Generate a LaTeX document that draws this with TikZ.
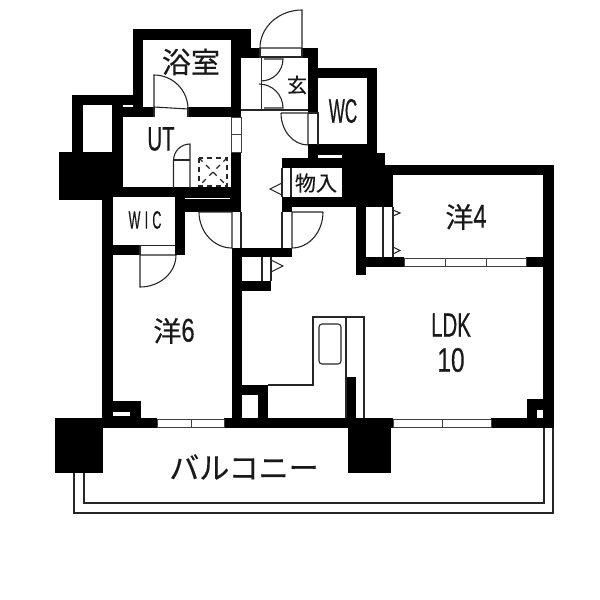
\documentclass[tikz,border=0pt]{standalone}
\usepackage{fontspec}
\setmainfont[FakeBold=.4]{Noto Sans CJK JP}
\newfontfamily\halffont[FakeStretch=.6,FakeBold=.4]{Liberation Sans}
\newfontfamily\wcfont[FakeStretch=.5,FakeBold=.4]{Liberation Sans}
\newfontfamily\digitfont[FakeStretch=.72,FakeBold=.4]{Liberation Sans}
\newfontfamily\wicfont[FakeStretch=.5,LetterSpace=17,FakeBold=.4]{Liberation Sans}
\tikzset{
	wall/.style={fill=black},
	thinline/.style={draw=black!85,line width=1.1pt},
	doorline/.style={draw=black!85,line width=1.1pt},
	glass/.style={draw=black!75,fill=white,line width=.9pt},
	room/.style={inner sep=0pt,text=black!90}
}
\newcommand{\jpsize}[1]{\fontsize{#1}{#1}\selectfont}
\begin{document}
\begin{tikzpicture}[x=1pt,y=-1pt]
	\useasboundingbox (0,0) rectangle (600,600);
	% walls
	\foreach \xa/\ya/\xb/\yb in {133/29/251/40, 133/29/143/117, 231/29/241/117, 241/29/251/58, 241/48/260/58, 302/48/318/58,
		308/48/318/113, 318/68/377/78, 367/68/377/155, 308/144/377/155, 308/144/318/168,
		72/95/133/105, 72/95/83/152, 112/95/123/187, 123/107/154/117, 188/107/241/117,
		231/152/241/212, 59/152/123/187, 59/187/102/200, 102/187/241/197, 185/197/241/212,
		102/197/113/418, 175/197/185/255, 113/245/140/255,
		282/158/342/168, 342/153/385/207, 385/165/393/207, 393/165/554/175, 543/165/554/428,
		282/197/356/207, 282/207/292/212, 356/207/366/275, 366/257/404/267, 526/257/554/267,
		232/248/292/257, 232/248/242/418, 241/281/271/291,
		241/385/268/395, 258/385/268/418, 346/377/356/418,
		103/418/157/428, 224/418/393/428, 491/418/554/428,
		55/418/103/473, 348/418/391/473,
		113/401/141/412, 130/401/141/418, 113/416/130/418,
		527/399/537/418, 527/399/554/410, 544/399/554/418}
		{\fill[wall] (\xa,\ya) rectangle (\xb,\yb);}
	\fill[white] (318,155) rectangle (341,158);
	\fill[white] (185,197.5) rectangle (230,199);

	% windows
	\foreach \xa/\ya/\xb/\yb in {231/117/241/134, 231/134/241/152,
		404/258/445/266, 445/258/486/266, 486/258/526/266,
		157/419/191/427, 191/419/224/427, 393/419/442/427, 442/419/491/427}
		{\draw[glass] (\xa,\ya) rectangle (\xb,\yb);}

	% doors
	\draw[doorline] (154,107) -- (154,75) arc[start angle=-90,end angle=0,radius=34] -- (154,107);
	\draw[doorline] (154,107) -- (154,117) (188,107) -- (188,117);
	\draw[doorline] (190,188) -- (190,144) arc[start angle=-90,end angle=-180,radius=16.5] -- (173.5,188);
	\draw[doorline] (173.5,160) -- (190,160);
	\draw[doorline] (302,48) -- (302,10) arc[start angle=-90,end angle=-180,x radius=42,y radius=38] -- (302,48);
	\draw[doorline] (260,48) -- (260,57) -- (302,57) -- (302,48);
	\draw[doorline] (264,59) -- (283,59) arc[start angle=0,end angle=90,radius=22] ;
	\draw[doorline] (264,108) -- (283,108) arc[start angle=0,end angle=-90,radius=24];
	\draw[doorline,line width=1.6pt] (261.5,58) -- (261.5,109);
	\draw[doorline] (241,110) -- (308,110);
	\draw[doorline] (281,113) -- (308,113) -- (308,145) arc[start angle=90,end angle=180,x radius=27,y radius=32];
	\draw[doorline] (308,113) -- (318,113) -- (318,145);
	\draw[doorline] (199,212) -- (232,212) -- (232,248) arc[start angle=90,end angle=180,x radius=33,y radius=36];
	\draw[doorline] (241,212) -- (241,248);
	\draw[doorline] (323,212) -- (292,212) -- (292,248) arc[start angle=90,end angle=0,x radius=31,y radius=36];
	\draw[doorline] (282,212) -- (282,248);
	\draw[doorline] (175,255) -- (140,255) -- (140,287) arc[start angle=90,end angle=0,x radius=36,y radius=32];
	\draw[doorline] (140,245) -- (140,255);
	\draw[doorline] (140,245.5) -- (175,245.5);

	% closets
	\draw[thinline] (282,168) -- (282,197);
	\draw[thinline] (291,168) -- (291,197);
	\draw[thinline] (282,183) -- (270,189) -- (282,195);
	\draw[thinline] (262,257) -- (262,281);
	\draw[thinline] (271,257) -- (271,281);
	\draw[thinline] (271,260) -- (283,266) -- (271,272);
	\draw[thinline] (383,207) -- (383,257);
	\draw[thinline] (393,207) -- (393,257);
	\draw[thinline] (393,210) -- (400,213) -- (393,216);
	\draw[thinline] (393,247) -- (400,250.5) -- (393,254);

	% kitchen
	\draw[thinline] (268,385) -- (313,385) -- (313,317) -- (364,317) -- (364,418);
	\draw[thinline] (346,317) -- (346,418);
	\draw[thinline,rounded corners=3pt] (319,324) rectangle (341,364);

	% vent
	\draw[thinline,dashed,dash pattern=on 5pt off 4pt] (199,158) rectangle (227,186);
	\draw[thinline,dashed,dash pattern=on 5pt off 5pt] (199,158) -- (227,186) (227,158) -- (199,186);

	% balcony
	\draw[thinline] (74,473) -- (74,513) -- (553,513) -- (553,428);
	\draw[thinline] (84,473) -- (84,503) -- (544,503) -- (544,428);

	% labels
	\node[room] (bath) at (191,62) {\jpsize{29}浴室};
	\node[room] (entry) at (297,85) {\jpsize{20}玄};
	\node[room] (toilet) at (343,111) {\jpsize{34}\wcfont WC};
	\node[room] (util) at (161,139) {\jpsize{34}\halffont UT};
	\node[room] (closet) at (316,183) {\jpsize{21}物入};
	\node[room] (wic) at (145,220) {\jpsize{25}\wicfont WIC};
	\node[room] (west4) at (466,217) {\jpsize{28}洋\jpsize{33}\digitfont 4};
	\node[room] (west6) at (174,331) {\jpsize{28}洋\jpsize{33}\digitfont 6};
	\node[room] (ldk) at (451,325) {\jpsize{34}\halffont LDK};
	\node[room] (ldkn) at (451,360) {\jpsize{34}\digitfont 10};
	\node[room] (balcony) at (244,467) {\jpsize{30}バルコニー};
\end{tikzpicture}
\end{document}
